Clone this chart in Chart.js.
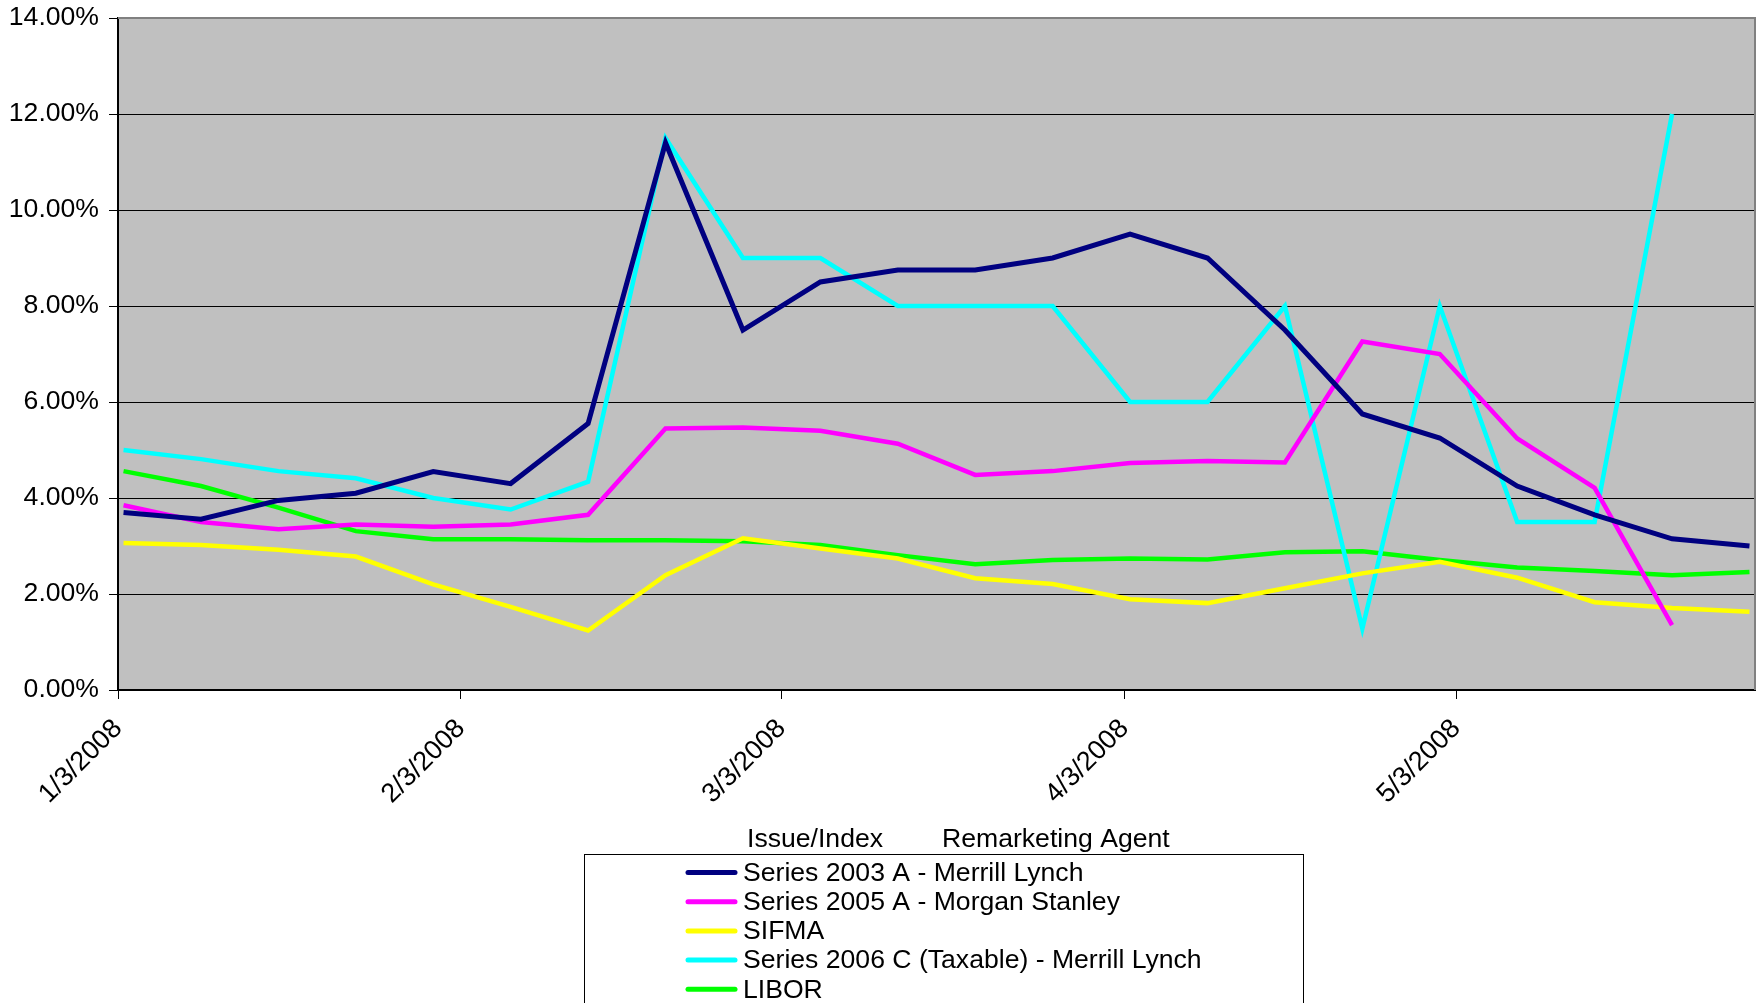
<!DOCTYPE html>
<html>
<head>
<meta charset="utf-8">
<script src="https://cdn.jsdelivr.net/npm/chart.js@4.4.1/dist/chart.umd.min.js"></script>
<style>
  html, body { margin: 0; padding: 0; background: #fff; }
  #wrap { width: 1758px; height: 1003px; }
</style>
</head>
<body>
<div id="wrap"><canvas id="grafico" width="1758" height="1003"></canvas></div>
<script>
// datas semanais (quintas-feiras)
const datas = ["1/3/2008", "1/10/2008", "1/17/2008", "1/24/2008", "1/31/2008", "2/7/2008", "2/14/2008",
  "2/21/2008", "2/28/2008", "3/6/2008", "3/13/2008", "3/20/2008", "3/27/2008", "4/3/2008", "4/10/2008",
  "4/17/2008", "4/24/2008", "5/1/2008", "5/8/2008", "5/15/2008", "5/22/2008", "5/29/2008"];

const serie2003A = [3.70, 3.56, 3.95, 4.10, 4.55, 4.30, 5.55, 11.40, 7.50, 8.50, 8.75, 8.75, 9.00, 9.50,
  9.00, 7.50, 5.75, 5.25, 4.25, 3.65, 3.15, 3.00];
const serie2005A = [3.85, 3.50, 3.35, 3.45, 3.40, 3.45, 3.65, 5.45, 5.47, 5.40, 5.13, 4.48, 4.56, 4.73,
  4.77, 4.74, 7.26, 7.00, 5.24, 4.21, 1.35, null];
const sifma = [3.06, 3.02, 2.92, 2.78, 2.20, 1.73, 1.24, 2.39, 3.16, 2.95, 2.74, 2.33, 2.21, 1.89,
  1.81, 2.12, 2.43, 2.67, 2.34, 1.83, 1.71, 1.63];
const serie2006C = [5.00, 4.81, 4.56, 4.41, 4.00, 3.76, 4.34, 11.50, 9.00, 9.00, 8.00, 8.00, 8.00, 6.00,
  6.00, 8.00, 1.28, 8.00, 3.50, 3.50, 12.00, null];
const libor = [4.56, 4.25, 3.80, 3.31, 3.14, 3.14, 3.12, 3.12, 3.10, 3.02, 2.81, 2.62, 2.71, 2.74,
  2.72, 2.87, 2.89, 2.71, 2.55, 2.48, 2.39, 2.46];

const rotulosX = ["1/3/2008", "2/3/2008", "3/3/2008", "4/3/2008", "5/3/2008"];
const fimEixoX = "5/30/2008";
const tituloLegenda = ["Issue/Index", "Remarketing Agent"];

function dias(texto) {
  const [m, d, a] = texto.split("/").map(Number);
  return (Date.UTC(a, m - 1, d) - Date.UTC(2008, 0, 3)) / 86400000;
}

// como no Excel, o ponto fica no meio do dia
function pontos(valores) {
  return datas.map((d, i) => ({ x: dias(d) + 0.5, y: valores[i] }));
}

const fonte = '"Liberation Sans", Arial, sans-serif';

const fundoPlugin = {
  id: "fundoPlot",
  beforeDraw(chart) {
    const a = chart.chartArea;
    const ctx = chart.ctx;
    ctx.save();
    ctx.fillStyle = "#c0c0c0";
    ctx.fillRect(a.left, a.top, a.right - a.left, a.bottom - a.top);
    ctx.restore();
  },
  beforeDatasetsDraw(chart) {
    const a = chart.chartArea;
    const ctx = chart.ctx;
    ctx.save();
    ctx.strokeStyle = "#808080";
    ctx.lineWidth = 2;
    ctx.beginPath();
    ctx.moveTo(a.left, a.top);
    ctx.lineTo(a.right, a.top);
    ctx.lineTo(a.right, a.bottom);
    ctx.stroke();
    ctx.restore();
  }
};

const legendaPlugin = {
  id: "legendaExcel",
  afterDraw(chart) {
    const ctx = chart.ctx;
    ctx.save();
    ctx.font = "26.6px " + fonte;
    ctx.fillStyle = "#000";
    ctx.textBaseline = "middle";
    ctx.fillText(tituloLegenda[0], 747, 840);
    ctx.fillText(tituloLegenda[1], 942, 840);
    ctx.strokeStyle = "#000";
    ctx.lineWidth = 1;
    ctx.strokeRect(584.5, 854.5, 719, 200);
    chart.data.datasets.forEach((ds, i) => {
      const y = 872.5 + i * 29.2;
      ctx.strokeStyle = ds.borderColor;
      ctx.lineWidth = 5;
      ctx.lineCap = "round";
      ctx.beginPath();
      ctx.moveTo(688, y);
      ctx.lineTo(735, y);
      ctx.stroke();
      ctx.fillText(ds.label, 743, y + 1);
    });
    ctx.restore();
  }
};

function serie(label, cor, valores, largura) {
  return {
    label: label,
    data: pontos(valores),
    borderColor: cor,
    backgroundColor: cor,
    borderWidth: largura,
    pointRadius: 0,
    tension: 0,
    fill: false
  };
}

new Chart(document.getElementById("grafico"), {
  type: "line",
  data: {
    datasets: [
      serie("Series 2003 A - Merrill Lynch", "#000080", serie2003A, 5),
      serie("Series 2005 A - Morgan Stanley", "#ff00ff", serie2005A, 4.5),
      serie("SIFMA", "#ffff00", sifma, 4.5),
      serie("Series 2006 C (Taxable) - Merrill Lynch", "#00ffff", serie2006C, 4.5),
      serie("LIBOR", "#00ff00", libor, 4.5)
    ]
  },
  options: {
    responsive: false,
    animation: false,
    devicePixelRatio: 1,
    layout: { padding: { top: 18, right: 3, left: 0, bottom: 0 } },
    plugins: {
      legend: { display: false },
      tooltip: { enabled: false }
    },
    scales: {
      x: {
        type: "linear",
        min: 0,
        max: dias(fimEixoX),
        afterBuildTicks(scale) {
          scale.ticks = rotulosX.map(r => ({ value: dias(r) }));
        },
        afterFit(scale) { scale.height = 313; },
        grid: { drawOnChartArea: false, drawTicks: true, tickLength: 9, color: "#000", lineWidth: 1 },
        border: { display: true, color: "#000", width: 2 },
        ticks: {
          autoSkip: false,
          minRotation: 45,
          maxRotation: 45,
          color: "#000",
          padding: 14,
          font: { family: fonte, size: 27 },
          callback: (v, i) => rotulosX[i]
        }
      },
      y: {
        min: 0,
        max: 14,
        afterFit(scale) {
          scale.width = 118;
          scale.paddingTop = 0;
          scale.paddingBottom = 0;
        },
        grid: { color: "#000", lineWidth: 1, drawTicks: true, tickLength: 9 },
        border: { display: true, color: "#000", width: 2 },
        ticks: {
          stepSize: 2,
          color: "#000",
          padding: 10,
          font: { family: fonte, size: 26.6 },
          callback: v => v.toFixed(2) + "%"
        }
      }
    }
  },
  plugins: [fundoPlugin, legendaPlugin]
});
</script>
</body>
</html>
